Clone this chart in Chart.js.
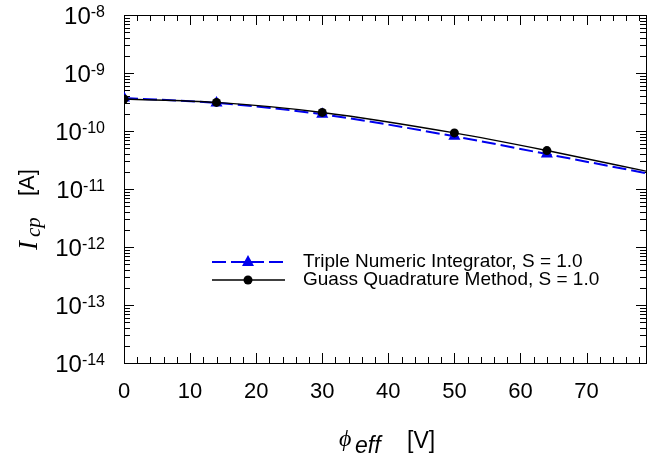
<!DOCTYPE html>
<html>
<head>
<meta charset="utf-8">
<script src="https://cdn.jsdelivr.net/npm/chart.js@4.4.1/dist/chart.umd.min.js"></script>
<style>
  html, body { margin: 0; padding: 0; background: #fff; }
</style>
</head>
<body>
<canvas id="icpChart" width="653" height="456"></canvas>
<script>
// values
const phiEff = [0, 14, 30, 50, 64, 79];
const tripleNumeric = [3.7e-10, 3.05e-10, 1.94e-10, 8.1e-11, 4.0e-11, 1.88e-11];
const gaussQuadrature = [3.56e-10, 3.11e-10, 2.09e-10, 9.27e-11, 4.6e-11, 2.03e-11];
const markerCount = 5; // last point only carries the curve out to the frame
const yDecades = [-14, -13, -12, -11, -10, -9, -8];
const xTickLabels = [0, 10, 20, 30, 40, 50, 60, 70];
const legendLabels = ['Triple Numeric Integrator, S = 1.0', 'Guass Quadrature Method, S = 1.0'];

const SANS = '"Liberation Sans", Arial, sans-serif';
const SERIF = '"Liberation Serif", "Times New Roman", serif';
const BLUE = '#0000ee';

function radii(r) {
    return phiEff.map((_, i) => (i < markerCount ? r : 0));
}

// box with inward ticks on all four sides
const framePlugin = {
    id: 'frame',
    beforeDatasetsDraw(chart) {
        const { ctx, chartArea: a, scales: { x, y } } = chart;
        ctx.save();
        ctx.strokeStyle = '#000';
        ctx.lineWidth = 1;
        ctx.beginPath();
        for (let v = 0; v <= 78; v += 2) {
            const px = Math.round(x.getPixelForValue(v)) + 0.5;
            const len = v % 10 === 0 ? 10 : 6;
            ctx.moveTo(px, a.bottom);
            ctx.lineTo(px, a.bottom - len);
            ctx.moveTo(px, a.top);
            ctx.lineTo(px, a.top + len);
        }
        yDecades.forEach(d => {
            for (let k = 1; k <= 9; k++) {
                if (k > 1 && d === -8) break;
                const py = Math.round(y.getPixelForValue(k * Math.pow(10, d))) + 0.5;
                const len = k === 1 ? 10 : 6;
                ctx.moveTo(a.left, py);
                ctx.lineTo(a.left + len, py);
                ctx.moveTo(a.right, py);
                ctx.lineTo(a.right - len, py);
            }
        });
        ctx.stroke();
        ctx.strokeRect(a.left + 0.5, a.top + 0.5, a.right - a.left, a.bottom - a.top);
        ctx.restore();
    },
    afterDraw(chart) {
        const { ctx, scales: { y } } = chart;
        ctx.save();
        ctx.fillStyle = '#000';

        // 10^n labels
        ctx.textAlign = 'right';
        ctx.textBaseline = 'alphabetic';
        yDecades.forEach(d => {
            const py = y.getPixelForValue(Math.pow(10, d));
            const exp = String(d);
            ctx.font = '16px ' + SANS;
            const ew = ctx.measureText(exp).width;
            ctx.fillText(exp, 105, py + 2);
            ctx.font = '24px ' + SANS;
            ctx.fillText('10', 105 - ew, py + 9);
        });

        // y title: I_cp [A]
        ctx.save();
        ctx.translate(37, 250);
        ctx.rotate(-Math.PI / 2);
        ctx.textAlign = 'left';
        ctx.font = 'italic 27px ' + SERIF;
        ctx.fillText('I', 0, 0);
        ctx.font = 'italic 21px ' + SERIF;
        ctx.fillText('cp', 13, 3);
        ctx.font = '22px ' + SANS;
        ctx.fillText('[A]', 54, -3);
        ctx.restore();

        // x title: phi_eff [V]
        ctx.textAlign = 'left';
        ctx.font = 'italic 24px ' + SERIF;
        ctx.fillText('\u03d5', 339, 446);
        ctx.font = 'italic 23px ' + SANS;
        ctx.fillText('eff', 355, 453);
        ctx.font = '23px ' + SANS;
        ctx.fillText('[V]', 407, 448);

        // legend
        const rows = [{ ds: 0, y: 262 }, { ds: 1, y: 280 }];
        rows.forEach(row => {
            const ds = chart.data.datasets[row.ds];
            ctx.strokeStyle = ds.borderColor;
            ctx.fillStyle = ds.borderColor;
            ctx.lineWidth = ds.borderWidth;
            ctx.setLineDash(ds.borderDash || []);
            ctx.beginPath();
            ctx.moveTo(212, row.y);
            ctx.lineTo(285, row.y);
            ctx.stroke();
            ctx.setLineDash([]);
            ctx.beginPath();
            if (ds.pointStyle === 'triangle') {
                ctx.moveTo(248, row.y - 7);
                ctx.lineTo(254, row.y + 4);
                ctx.lineTo(242, row.y + 4);
                ctx.closePath();
            } else {
                ctx.arc(248, row.y, 4.5, 0, Math.PI * 2);
            }
            ctx.fill();
            ctx.fillStyle = '#000';
            ctx.font = '19px ' + SANS;
            ctx.textBaseline = 'middle';
            ctx.fillText(ds.label, 303, row.y);
            ctx.textBaseline = 'alphabetic';
        });
        ctx.restore();
    }
};

new Chart(document.getElementById('icpChart'), {
    type: 'line',
    data: {
        datasets: [{
            label: legendLabels[0],
            data: phiEff.map((x, i) => ({ x: x, y: tripleNumeric[i] })),
            borderColor: BLUE,
            backgroundColor: BLUE,
            borderWidth: 2,
            borderDash: [14, 5],
            pointStyle: 'triangle',
            pointRadius: radii(7),
            pointBorderWidth: 0,
            cubicInterpolationMode: 'monotone',
            fill: false,
            order: 1
        }, {
            label: legendLabels[1],
            data: phiEff.map((x, i) => ({ x: x, y: gaussQuadrature[i] })),
            borderColor: '#000',
            backgroundColor: '#000',
            borderWidth: 1.4,
            pointStyle: 'circle',
            pointRadius: radii(4.5),
            pointBorderWidth: 0,
            cubicInterpolationMode: 'monotone',
            fill: false,
            order: 0
        }]
    },
    options: {
        responsive: false,
        animation: false,
        layout: {
            padding: { top: 15, right: 0, bottom: 0, left: 0 }
        },
        plugins: {
            legend: { display: false },
            tooltip: { enabled: false }
        },
        scales: {
            x: {
                type: 'linear',
                min: 0,
                max: 79,
                afterBuildTicks: s => { s.ticks = xTickLabels.map(v => ({ value: v })); },
                afterFit: s => { s.height = 93; },
                ticks: {
                    color: '#000',
                    font: { family: SANS, size: 22 },
                    padding: 16,
                    maxRotation: 0,
                    autoSkip: false
                },
                grid: { display: false, drawTicks: false },
                border: { display: false }
            },
            y: {
                type: 'logarithmic',
                min: 1e-14,
                max: 1e-8,
                afterBuildTicks: s => { s.ticks = yDecades.map(d => ({ value: Math.pow(10, d), major: true })); },
                afterFit: s => { s.width = 124; },
                ticks: { display: false },
                grid: { display: false, drawTicks: false },
                border: { display: false }
            }
        }
    },
    plugins: [framePlugin]
});
</script>
</body>
</html>
